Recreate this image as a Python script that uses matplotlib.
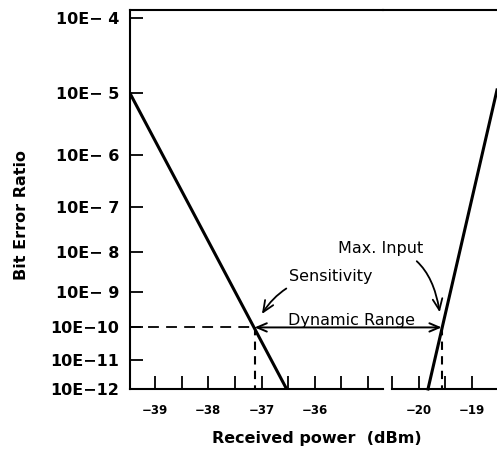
import matplotlib.pyplot as plt
from matplotlib.patches import ConnectionPatch
from matplotlib.ticker import NullLocator

# BER = 10^-n, y axis labelled by exponent n
ber_exp = [4, 5, 6, 7, 8, 9, 10, 11, 12]
ber_labels = ['10E− 4', '10E− 5', '10E− 6', '10E− 7', '10E− 8',
              '10E− 9', '10E−10', '10E−11', '10E−12']

left_ticks = [-39, -38.5, -38, -37.5, -37, -36.5, -36, -35.5, -35]
left_labels = ['−39', '', '−38', '', '−37', '', '−36', '', '']
right_ticks = [-20.5, -20, -19.5, -19]
right_labels = ['', '−20', '', '−19']

# the two BER curves (straight lines on this paper)
sens_line_x = [-39.47, -36.53]
sens_line_n = [5, 12]
max_line_x = [-19.825, -18.53]
max_line_n = [12, 4.95]

sens_x = -37.13   # sensitivity at 10E-10
max_x = -19.57    # max input at 10E-10
ref_n = 10

fig = plt.figure(figsize=(4.97, 4.54), dpi=100)
ax1 = fig.add_axes([0.2616, 0.1432, 0.509, 0.8348])
ax2 = fig.add_axes([0.7706, 0.1432, 0.2294, 0.8348], sharey=ax1)

ax1.set_yscale('log')
ax1.set_ylim(12, 3.906)
ax1.set_xlim(-39.47, -34.72)
ax2.set_xlim(-20.67, -18.53)

lw_ax = 1.5
for ax in (ax1, ax2):
    ax.patch.set_visible(False)
    ax.spines['right'].set_visible(False)
    for s in ('top', 'bottom', 'left'):
        ax.spines[s].set_linewidth(lw_ax)
    ax.yaxis.set_minor_locator(NullLocator())
    ax.xaxis.set_minor_locator(NullLocator())
    ax.tick_params(direction='in', length=9.5, width=1.3)
ax2.spines['left'].set_visible(False)
ax2.spines['bottom'].set_bounds(-20.5, -18.53)

ax1.set_yticks(ber_exp)
ax1.set_yticklabels(ber_labels, fontsize=11.5, fontweight='bold')
ax1.tick_params(axis='y', pad=8)
ax2.tick_params(axis='y', left=False, labelleft=False)

ax1.set_xticks(left_ticks)
ax1.set_xticklabels(left_labels, fontsize=8.5, fontweight='bold')
ax2.set_xticks(right_ticks)
ax2.set_xticklabels(right_labels, fontsize=8.5, fontweight='bold')
for ax in (ax1, ax2):
    ax.tick_params(axis='x', pad=11)

ax1.plot(sens_line_x, sens_line_n, color='black', lw=2.2)
ax2.plot(max_line_x, max_line_n, color='black', lw=2.2, clip_on=False)

dash = (0, (6, 4))
ax1.plot([ax1.get_xlim()[0], sens_x], [ref_n, ref_n], color='black', lw=1.3, ls=dash)
ax1.plot([sens_x, sens_x], [ref_n, 12], color='black', lw=1.5, ls=(0, (4, 3)))
ax2.plot([max_x, max_x], [ref_n, 12], color='black', lw=1.5, ls=(0, (4, 3)))

# dynamic range double arrow across the break
arr = ConnectionPatch(xyA=(sens_x, ref_n), coordsA=ax1.transData,
                      xyB=(max_x, ref_n), coordsB=ax2.transData,
                      arrowstyle='<->,head_length=0.7,head_width=0.3',
                      lw=1.4, color='black', shrinkA=0, shrinkB=0)
fig.add_artist(arr)

fig.text(352 / 497, 1 - 321 / 454, 'Dynamic Range',
         ha='center', va='center', fontsize=11.5)

ax1.annotate('Sensitivity', xy=(sens_x, ref_n), xytext=(25, 37),
             textcoords='offset points', ha='left', va='center', fontsize=11.5,
             annotation_clip=False,
             arrowprops=dict(arrowstyle='->,head_length=0.7,head_width=0.3',
                             connectionstyle='angle3,angleA=180,angleB=65',
                             lw=1.3, color='black', shrinkA=3, shrinkB=11))

ax2.annotate('Max. Input', xy=(max_x, ref_n), xytext=(-13, 57),
             textcoords='offset points', ha='right', va='center', fontsize=11.5,
             annotation_clip=False,
             arrowprops=dict(arrowstyle='->,head_length=0.7,head_width=0.3',
                             connectionstyle='angle3,angleA=0,angleB=95',
                             lw=1.3, color='black', shrinkA=3, shrinkB=11))

fig.text(22 / 497, 1 - 215 / 454, 'Bit Error Ratio', rotation=90,
         ha='center', va='center', fontsize=11.5, fontweight='bold')
fig.text(317 / 497, 1 - 438 / 454, 'Received power  (dBm)',
         ha='center', va='center', fontsize=11.5, fontweight='bold')

fig.savefig('out.png', dpi=100)
